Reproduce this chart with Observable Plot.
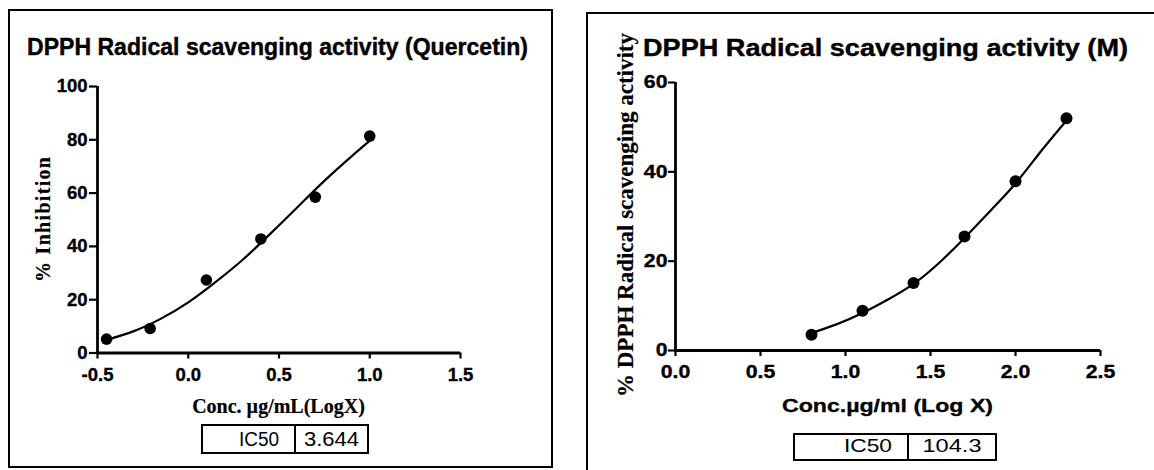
<!DOCTYPE html>
<html>
<head>
<meta charset="utf-8">
<script src="https://cdn.jsdelivr.net/npm/d3@7"></script>
<script src="https://cdn.jsdelivr.net/npm/@observablehq/plot@0.6"></script>
<style>
html, body { margin: 0; padding: 0; background: #fff; }
#root { position: relative; width: 1154px; height: 470px; overflow: hidden; }
#root > svg { position: absolute; top: 0; max-width: none; }
</style>
</head>
<body>
<div id="root"></div>
<script>
// ---------- Data: Quercetin panel ----------
const qLogX = [-0.45, -0.21, 0.1, 0.4, 0.7, 1.0];
const qInhibition = [5.2, 9.2, 27.4, 42.8, 58.5, 81.4];
const qFitX = [-0.46, -0.3, -0.15, 0.0, 0.15, 0.3, 0.45, 0.6, 0.75, 0.9, 1.0];
const qFitY = [4.7, 8.2, 12.9, 19.0, 26.6, 35.0, 44.6, 54.6, 64.6, 73.8, 79.6];
const qXTicks = [-0.5, 0, 0.5, 1.0, 1.5];
const qYTicks = [0, 20, 40, 60, 80, 100];
const qTitle = "DPPH Radical scavenging activity (Quercetin)";
const qXLabel = "Conc. µg/mL(LogX)";
const qYLabel = "% Inhibition";
const qIC50 = ["IC50", "3.644"];

// ---------- Data: M panel ----------
const mLogX = [0.8, 1.1, 1.4, 1.7, 2.0, 2.3];
const mActivity = [3.5, 8.9, 15.1, 25.5, 37.9, 52.0];
const mFitX = [0.8, 0.95, 1.1, 1.25, 1.4, 1.55, 1.7, 1.85, 2.0, 2.15, 2.3];
const mFitY = [3.9, 5.9, 8.4, 11.4, 14.9, 19.6, 25.2, 31.2, 37.4, 44.6, 51.5];
const mXTicks = [0, 0.5, 1.0, 1.5, 2.0, 2.5];
const mYTicks = [0, 20, 40, 60];
const mTitle = "DPPH Radical scavenging activity (M)";
const mXLabel = "Conc.µg/ml (Log X)";
const mYLabel = "% DPPH Radical scavenging activity";
const mIC50 = ["IC50", "104.3"];

const SANS = "'Liberation Sans', Arial, sans-serif";
const SERIF = "'Liberation Serif', 'Times New Roman', serif";

const zip = (xs, ys) => xs.map((x, i) => ({x, y: ys[i]}));

const root = document.getElementById("root");

// Panel borders (drawn first, underneath)
const bg = d3.create("svg").attr("width", 1154).attr("height", 470).style("left", "0px");
bg.append("rect").attr("x", 9).attr("y", 10).attr("width", 543).attr("height", 457)
  .attr("fill", "none").attr("stroke", "#000").attr("stroke-width", 2);
bg.append("rect").attr("x", 587).attr("y", 13).attr("width", 620).attr("height", 520)
  .attr("fill", "none").attr("stroke", "#000").attr("stroke-width", 2);
root.appendChild(bg.node());

// Left chart
const left = Plot.plot({
  width: 570, height: 470,
  marginLeft: 97, marginRight: 110, marginTop: 86, marginBottom: 117.5,
  x: {domain: [-0.5, 1.5]},
  y: {domain: [0, 100]},
  style: {background: "transparent", overflow: "visible", fontFamily: SANS, color: "#000"},
  marks: [
    Plot.axisX({ticks: qXTicks, tickFormat: d => d.toFixed(1), tickSize: 6, tickPadding: 9,
      strokeWidth: 2.2, fontSize: 18.5, fontWeight: "bold", label: null}),
    Plot.axisY({ticks: qYTicks, tickFormat: d => String(d), tickSize: 8, tickPadding: 2,
      strokeWidth: 2.2, fontSize: 18.5, fontWeight: "bold", label: null}),
    Plot.ruleX([-0.5], {y1: 0, y2: 100, strokeWidth: 2.8}),
    Plot.ruleY([0], {x1: -0.5, x2: 1.5, strokeWidth: 2.8}),
    Plot.line(zip(qFitX, qFitY), {x: "x", y: "y", curve: "natural", strokeWidth: 2.2}),
    Plot.dot(zip(qLogX, qInhibition), {x: "x", y: "y", r: 5.8, fill: "#000", stroke: "none"})
  ]
});
left.style.left = "0px";
root.appendChild(left);

// Right chart
const right = Plot.plot({
  width: 584, height: 470,
  marginLeft: 105, marginRight: 54, marginTop: 82, marginBottom: 120,
  x: {domain: [0, 2.5]},
  y: {domain: [0, 60]},
  style: {background: "transparent", overflow: "visible", fontFamily: SANS, color: "#000"},
  marks: [
    Plot.axisX({ticks: mXTicks, tickFormat: d => d.toFixed(1), tickSize: 6, tickPadding: 9,
      strokeWidth: 2.2, fontSize: 17.7, fontWeight: "bold", label: null}),
    Plot.axisY({ticks: mYTicks, tickFormat: d => String(d), tickSize: 7, tickPadding: 1,
      strokeWidth: 2.2, fontSize: 17.7, fontWeight: "bold", label: null}),
    Plot.ruleX([0], {y1: 0, y2: 60, strokeWidth: 2.8}),
    Plot.ruleY([0], {x1: 0, x2: 2.5, strokeWidth: 2.8}),
    Plot.line(zip(mFitX, mFitY), {x: "x", y: "y", curve: "natural", strokeWidth: 2.2}),
    Plot.dot(zip(mLogX, mActivity), {x: "x", y: "y", r: 6, fill: "#000", stroke: "none"})
  ]
});
right.style.left = "570px";
root.appendChild(right);

// Enforce tick styling (font size / weight / tick stroke) directly on the rendered axes
function styleAxes(svg, fs, stretch) {
  svg.querySelectorAll('g[aria-label$="tick label"]').forEach(g => {
    g.setAttribute("font-size", fs);
    g.setAttribute("font-weight", "bold");
    g.setAttribute("fill", "#000");
    g.querySelectorAll("text").forEach(t => {
      t.style.fontSize = fs + "px";
      t.style.fontWeight = "bold";
      t.style.fontFamily = SANS;
      t.style.stroke = "#000";
      t.style.strokeWidth = "0.35px";
      if (stretch !== 1) {
        const tr = t.getAttribute("transform") || "";
        const x = +(t.getAttribute("x") || 0);
        t.setAttribute("transform", `${tr} translate(${x},0) scale(${stretch},1) translate(${-x},0)`);
      }
    });
  });
  svg.querySelectorAll('g[aria-label$="-axis tick"]').forEach(g => {
    g.setAttribute("stroke-width", 2.2);
    g.setAttribute("stroke", "#000");
    g.querySelectorAll("path,line").forEach(p => { p.style.strokeWidth = "2.2px"; });
  });
}
styleAxes(left, 18.5, 1);
styleAxes(right, 17.7, 1.2);

// Overlay text: titles, axis labels, IC50 tables
const fg = d3.create("svg").attr("width", 1154).attr("height", 470).style("left", "0px")
  .style("pointer-events", "none");

function txt(s, x, y, o = {}) {
  const t = fg.append("text").attr("x", x).attr("y", y).text(s)
    .attr("font-family", o.family || SANS)
    .attr("font-size", o.size || 16)
    .attr("font-weight", o.weight || "normal")
    .attr("text-anchor", o.anchor || "start")
    .attr("fill", "#000");
  if (o.heavy) t.attr("stroke", "#000").attr("stroke-width", o.heavy);
  if (o.len) t.attr("textLength", o.len).attr("lengthAdjust", o.adjust || "spacingAndGlyphs");
  if (o.rotate) t.attr("transform", `rotate(-90,${x},${y})`);
  return t;
}

// Titles
txt(qTitle, 27, 54.5, {size: 23, weight: "bold", len: 501, heavy: 0.4});
txt(mTitle, 643, 56, {size: 24, weight: "bold", len: 485, heavy: 0.4});

// Axis labels
txt(qXLabel, 278.5, 413, {family: SERIF, size: 20, weight: "bold", anchor: "middle", heavy: 0.2});
txt(qYLabel, 50, 219.5, {family: SERIF, size: 20, weight: "bold", anchor: "middle", rotate: true, len: 125, adjust: "spacing", heavy: 0.2});
txt(mXLabel, 887.5, 412, {size: 18.6, weight: "bold", anchor: "middle", len: 211, heavy: 0.3});
txt(mYLabel, 633, 215, {family: SERIF, size: 23, weight: "bold", anchor: "middle", rotate: true, len: 364, heavy: 0.2});

// IC50 tables
function table(x0, x1, xd, y0, y1, labels, size, base, lens) {
  fg.append("rect").attr("x", x0).attr("y", y0).attr("width", x1 - x0).attr("height", y1 - y0)
    .attr("fill", "none").attr("stroke", "#000").attr("stroke-width", 2);
  fg.append("line").attr("x1", xd).attr("x2", xd).attr("y1", y0).attr("y2", y1)
    .attr("stroke", "#000").attr("stroke-width", 2);
  txt(labels[0], xd - 16, base, {size, anchor: "end", len: lens[0]});
  txt(labels[1], (xd + x1) / 2, base, {size, anchor: "middle", len: lens[1]});
}
table(202, 368, 295, 425, 453, qIC50, 19.5, 446, [40, 55]);
table(794, 996, 908, 434, 460, mIC50, 18.6, 452, [48, 59]);

root.appendChild(fg.node());
</script>
</body>
</html>
